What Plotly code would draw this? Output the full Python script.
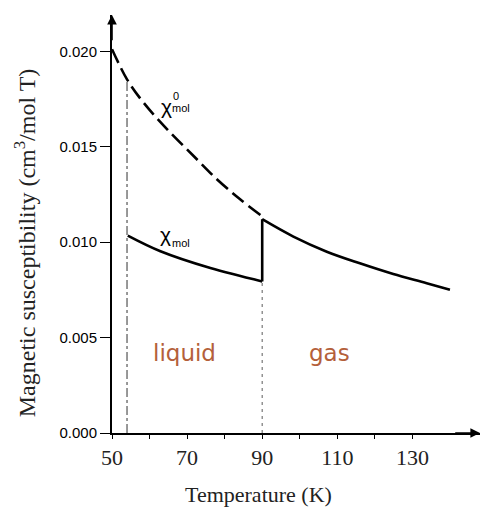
import plotly.graph_objects as go

# Dashed curve: chi0_mol
t_chi0 = [50.0, 54.0, 58.4, 64.7, 71.8, 78.0, 84.2, 90.0]
v_chi0 = [0.02011, 0.01853, 0.01731, 0.01591, 0.01450, 0.01328, 0.01223, 0.01135]

# Solid curve chi_mol, liquid part
t_liq = [54.2, 62.9, 76.2, 90.0]
v_liq = [0.01034, 0.00952, 0.00864, 0.00794]

# Solid curve chi_mol, gas part
t_gas = [90.0, 98.3, 107.2, 116.0, 124.9, 133.8, 140.0]
v_gas = [0.01120, 0.01029, 0.00950, 0.00889, 0.00833, 0.00785, 0.00750]

# Phase boundaries
t_melt = [54.0, 54.0]
v_melt = [0.0, 0.01853]
t_boil = [90.0, 90.0]
v_boil = [0.0, 0.00794]

x_ticks = [50, 60, 70, 80, 90, 100, 110, 120, 130]
x_labels = ["50", "", "70", "", "90", "", "110", "", "130"]
y_ticks = [0.000, 0.005, 0.010, 0.015, 0.020]

X_RANGE = [50, 148]
Y_RANGE = [0, 0.0219]
BROWN = "#b4603a"

fig = go.Figure()
fig.add_trace(go.Scatter(x=t_melt, y=v_melt, mode="lines",
                         line=dict(color="#555555", width=1.2, dash="dashdot"),
                         showlegend=False, hoverinfo="skip"))
fig.add_trace(go.Scatter(x=t_boil, y=v_boil, mode="lines",
                         line=dict(color="#777777", width=1.2, dash="3px,4px"),
                         showlegend=False, hoverinfo="skip"))
fig.add_trace(go.Scatter(x=t_chi0, y=v_chi0, mode="lines", line_shape="spline",
                         line=dict(color="black", width=2.6, dash="15px,6px"),
                         showlegend=False))
fig.add_trace(go.Scatter(x=t_liq, y=v_liq, mode="lines", line_shape="spline",
                         line=dict(color="black", width=2.6), showlegend=False))
fig.add_trace(go.Scatter(x=[t_liq[-1], t_gas[0]], y=[v_liq[-1], v_gas[0]], mode="lines",
                         line=dict(color="black", width=2.6), showlegend=False))
fig.add_trace(go.Scatter(x=t_gas, y=v_gas, mode="lines", line_shape="spline",
                         line=dict(color="black", width=2.6), showlegend=False))

ann = []
# axis arrows
ann.append(dict(x=148, y=0, ax=141, ay=0, xref="x", yref="y", axref="x", ayref="y",
                showarrow=True, arrowhead=2, arrowsize=1.2, arrowwidth=1.6,
                arrowcolor="black", text=""))
ann.append(dict(x=50, y=0.0219, ax=50, ay=0.0205, xref="x", yref="y", axref="x", ayref="y",
                showarrow=True, arrowhead=2, arrowsize=1.2, arrowwidth=1.6,
                arrowcolor="black", text=""))
# curve labels
sans = "Liberation Sans"
ann.append(dict(x=64.4, y=0.01713, text="χ", showarrow=False,
                font=dict(family=sans, size=21, color="black")))
ann.append(dict(x=67.0, y=0.01768, text="0", showarrow=False,
                font=dict(family=sans, size=11, color="black")))
ann.append(dict(x=68.4, y=0.01702, text="mol", showarrow=False,
                font=dict(family=sans, size=11, color="black")))
ann.append(dict(x=64.3, y=0.01040, text="χ", showarrow=False,
                font=dict(family=sans, size=21, color="black")))
ann.append(dict(x=68.5, y=0.00996, text="mol", showarrow=False,
                font=dict(family=sans, size=11, color="black")))
# phase labels
ann.append(dict(x=69.2, y=0.0042, text="liquid", showarrow=False,
                font=dict(family="DejaVu Sans", size=23, color=BROWN)))
ann.append(dict(x=107.8, y=0.0042, text="gas", showarrow=False,
                font=dict(family="DejaVu Sans", size=23, color=BROWN)))
ann.append(dict(x=142.4, y=-0.00094, text="T(K)", showarrow=False,
                font=dict(family=sans, size=14, color="black")))
# axis titles
ann.append(dict(x=88.9, y=-0.148, xref="x", yref="paper", text="Temperature (K)",
                showarrow=False, xanchor="center", yanchor="middle",
                font=dict(family="Liberation Serif", size=22, color="#222")))
ann.append(dict(x=-0.236, y=0.00995, xref="paper", yref="y",
                text="Magnetic susceptibility (cm<sup>3</sup>/mol T)", textangle=-90,
                showarrow=False, xanchor="center", yanchor="middle",
                font=dict(family="Liberation Serif", size=24, color="#222")))

fig.update_layout(
    width=481, height=507,
    margin=dict(l=112, r=1, t=15, b=74),
    paper_bgcolor="white", plot_bgcolor="white",
    annotations=ann,
    xaxis=dict(range=X_RANGE, tickvals=x_ticks, ticktext=x_labels,
               showgrid=False, zeroline=False, showline=True, linecolor="black",
               linewidth=2, ticks="outside", ticklen=4, tickwidth=1, tickcolor="black",
               tickfont=dict(family="Liberation Serif", size=22, color="#222")),
    yaxis=dict(range=Y_RANGE, tickvals=y_ticks, tickformat=".3f",
               showgrid=False, zeroline=False, showline=True, linecolor="black",
               linewidth=2, ticks="outside", ticklen=10, tickwidth=1, tickcolor="black",
               tickfont=dict(family=sans, size=15, color="black")),
)

fig.write_html("out.html")
